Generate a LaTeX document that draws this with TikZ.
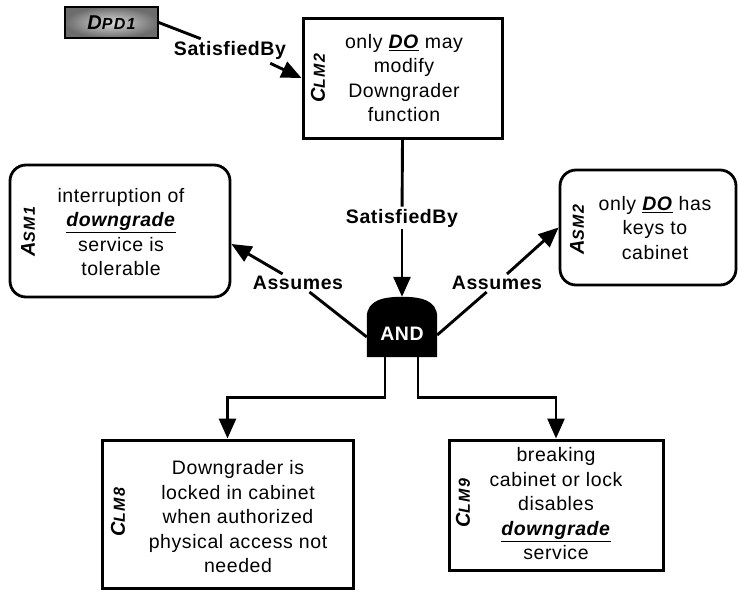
\documentclass[tikz,border=0pt]{standalone}
\usepackage{fontspec}
\setmainfont{Liberation Sans}
\usetikzlibrary{arrows.meta,calc}
\newcommand\bdfont{\fontsize{19.5}{24.5}\selectfont\addfontfeature{LetterSpace=3}}
\newcommand\lbfont{\fontsize{19.5}{22}\selectfont\bfseries\addfontfeature{LetterSpace=3}}
\newcommand\sidelab[2]{{\bfseries\itshape\addfontfeature{LetterSpace=8}\fontsize{20}{20}\selectfont #1\fontsize{16}{16}\selectfont #2}}
\newcommand\emp[1]{\underline{\textbf{\textit{#1}}}}
\begin{document}
\begin{tikzpicture}[x=1pt,y=-1pt,
  conn/.style={line width=2.9pt},
  arr/.style={line width=2.9pt,-{Triangle[length=20pt,width=17pt]}},
  clmbox/.style={draw,line width=3pt,rectangle,inner sep=0pt},
  asmbox/.style={draw,line width=2.8pt,rectangle,rounded corners=16pt,inner sep=0pt},
  txt/.style={align=center,font=\bdfont,inner sep=0pt},
  lab/.style={font=\lbfont,inner sep=2pt},
  rot/.style={rotate=90,inner sep=0pt},
  dpdbox/.style={draw,line width=1.4pt,inner color=gray!30,outer color=gray!85!black,inner sep=0pt}]
\useasboundingbox (0,0) rectangle (739,592);
% top
\node[dpdbox,minimum width=93pt,minimum height=31pt] (dpd) at (111.5,22.5) {\sidelab{D}{PD1}};
\node[lab] (sb1) at (230,50) {SatisfiedBy};
\node[clmbox,minimum width=199pt,minimum height=120pt] (clm2) at (402.5,78) {};
\node[rot] (clm2l) at (318,78) {\sidelab{C}{LM2}};
\node[txt] (clm2t) at (404,78) {only \emp{DO} may\\modify\\Downgrader\\function};
\node[lab] (sb2) at (402,218) {SatisfiedBy};
% assumptions
\node[asmbox,minimum width=220pt,minimum height=132pt] (asm1) at (120,231) {};
\node[rot] (asm1l) at (28,232) {\sidelab{A}{SM1}};
\node[txt] (asm1t) at (121,232) {interruption of\\\emp{downgrade}\\service is\\tolerable};
\node[asmbox,minimum width=176pt,minimum height=115pt] (asm2) at (648,227.5) {};
\node[rot] (asm2l) at (577,230) {\sidelab{A}{SM2}};
\node[txt] (asm2t) at (655,228) {only \emp{DO} has\\keys to\\cabinet};
\node[lab] (al) at (298,283) {Assumes};
\node[lab] (ar) at (497,283) {Assumes};
% AND gate
\node[minimum width=70pt,minimum height=60pt,inner sep=0pt] (and) at (402,327) {};
\fill (and.south west) -- ($(and.south west)+(0,-40)$)
  .. controls ($(and.north west)+(0,3)$) and ($(and.north)+(-18,0)$) .. (and.north)
  .. controls ($(and.north)+(18,0)$) and ($(and.north east)+(0,3)$) .. ($(and.south east)+(0,-40)$)
  -- (and.south east) -- cycle;
\node[text=white,font=\lbfont,inner sep=0pt] (andt) at (402,334) {AND};
% bottom claims
\node[clmbox,minimum width=251pt,minimum height=148pt] (clm8) at (227.5,514) {};
\node[rot] (clm8l) at (118,512) {\sidelab{C}{LM8}};
\node[txt] (clm8t) at (238,517) {Downgrader is\\locked in cabinet\\when authorized\\physical access not\\needed};
\node[clmbox,minimum width=214pt,minimum height=130pt] (clm9) at (556,505) {};
\node[rot] (clm9l) at (463,503) {\sidelab{C}{LM9}};
\node[txt] (clm9t) at (556,504) {breaking\\cabinet or lock\\disables\\\emp{downgrade}\\service};
% connectors
\draw[conn] (dpd.east) -- (sb1);
\draw[arr] ($(sb1.south east)+(-18,2)$) -- (clm2.west);
\draw[conn] (clm2.south) -- (sb2);
\draw[arr] (sb2) -- (and.north);
\draw[conn] ($(and.west)+(0,10)$) -- (al);
\draw[arr] (al) -- ($(asm1.east)+(0,13)$);
\draw[conn] ($(and.east)+(0,8)$) -- (ar);
\draw[arr] (ar) -- (asm2.west);
\draw[arr] ($(and.south)+(-17,0)$) -- ++(0,40) -| (clm8.north);
\draw[arr] ($(and.south)+(16,0)$) -- ++(0,40) -| (clm9.north);
\end{tikzpicture}
\end{document}
